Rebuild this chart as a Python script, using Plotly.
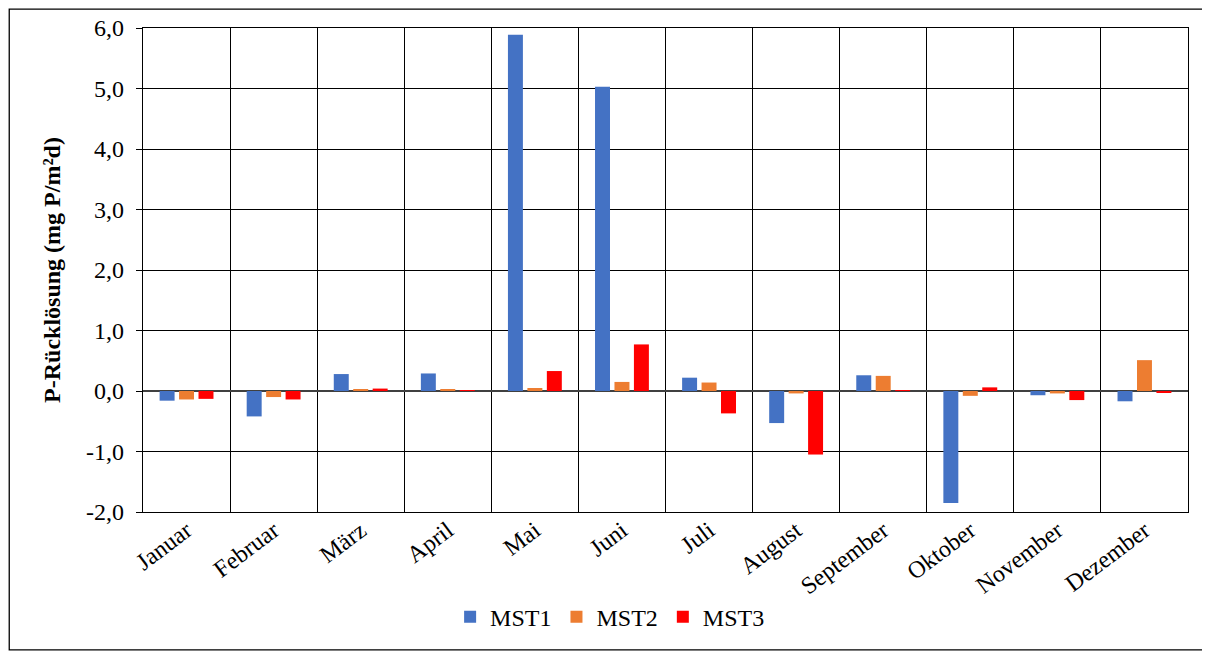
import plotly.graph_objects as go

months = ["Januar", "Februar", "März", "April", "Mai", "Juni", "Juli",
          "August", "September", "Oktober", "November", "Dezember"]
mst1 = [-0.16, -0.42, 0.28, 0.29, 5.89, 5.03, 0.22, -0.53, 0.26, -1.85, -0.07, -0.17]
mst2 = [-0.14, -0.10, 0.02, 0.02, 0.05, 0.15, 0.14, -0.04, 0.25, -0.08, -0.04, 0.51]
mst3 = [-0.13, -0.14, 0.04, 0.01, 0.33, 0.77, -0.37, -1.05, 0.01, 0.06, -0.15, -0.02]

y_tickvals = [-2, -1, 0, 1, 2, 3, 4, 5, 6]
y_ticktext = ["-2,0", "-1,0", "0,0", "1,0", "2,0", "3,0", "4,0", "5,0", "6,0"]

series = [("MST1", mst1, "#4472C4"), ("MST2", mst2, "#ED7D31"), ("MST3", mst3, "#FF0000")]

font = "Liberation Serif, Times New Roman, serif"

fig = go.Figure()
for name, vals, col in series:
    fig.add_trace(go.Bar(x=months, y=vals, name=name, marker=dict(color=col, line=dict(width=0))))

fig.update_layout(
    width=1210, height=653,
    barmode="group", bargap=0.33, bargroupgap=0.23,
    plot_bgcolor="white", paper_bgcolor="white",
    margin=dict(l=135, r=30, t=20, b=149, autoexpand=False),
    font=dict(family=font, size=24, color="black"),
    legend=dict(orientation="h", x=0.447, xanchor="center", y=-0.217, yanchor="middle",
                font=dict(family=font, size=24), itemwidth=30, traceorder="normal"),
    showlegend=True,
)
fig.update_xaxes(
    type="category", tickson="boundaries", showgrid=True, gridcolor="black", gridwidth=1.3,
    tickangle=-37, ticks="", showline=True, linecolor="black", linewidth=1.3, mirror=True,
    tickfont=dict(size=24), automargin=False, ticklabelstandoff=-6,
)
fig.update_yaxes(
    range=[-2, 6], tickvals=y_tickvals, ticktext=y_ticktext,
    showgrid=True, gridcolor="black", gridwidth=1.3,
    zeroline=True, zerolinecolor="#404040", zerolinewidth=2,
    showline=True, linecolor="black", linewidth=1.3, mirror=True,
    ticks="outside", ticklen=6, tickcolor="black", tickwidth=1.3,
    tickfont=dict(size=24), automargin=False, ticklabelstandoff=7,
    title=dict(text="<b>P-Rücklösung (mg P/m²d)</b>", font=dict(size=24), standoff=18),
)
fig.add_shape(type="rect", xref="paper", yref="paper",
              x0=-0.128, x1=1.016, y0=-0.285, y1=1.039,
              line=dict(color="black", width=1.3), fillcolor="rgba(0,0,0,0)", layer="below")

fig.write_html("out.html")
